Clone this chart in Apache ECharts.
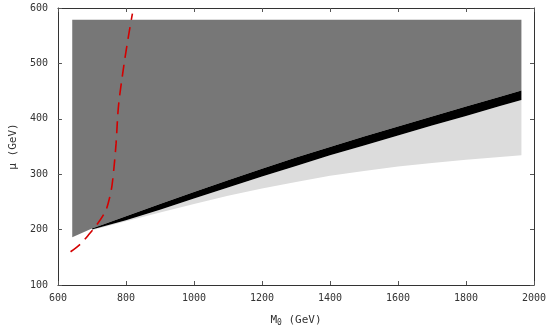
<!DOCTYPE html>
<html><head><meta charset="utf-8">
<script src="https://cdn.jsdelivr.net/npm/echarts@6/dist/echarts.min.js"></script>
<style>html,body{margin:0;padding:0;background:#fff}#c{width:554px;height:332px}</style>
</head><body><div id="c"></div>
<script>
// Band sample positions (M0, GeV)
var bandX       = [700, 800, 900, 1000, 1100, 1200, 1300, 1400, 1500, 1600, 1700, 1800, 1900, 1963];
var blackTop    = [202, 224, 246, 268,  289,  310,  330,  349,  368,  386,  404,  422,  440,  451];
var blackBottom = [200, 217, 236, 256,  276,  296,  315,  334,  352,  370,  388,  405,  423,  434];
var lightBottom = [199, 215, 231, 246,  261,  274,  286,  297,  306,  314,  320,  326,  331,  334];
// Dark region outer corners
var darkLeftX = 642, darkRightX = 1963, darkTopY = 579, darkLeftBottomY = 186;
// Red dashed curve
var redX = [637, 666, 692, 718, 741, 752, 759, 766, 771, 778, 793, 807, 819];
var redY = [160, 174, 192, 212, 235, 258, 280, 320, 356, 423, 493, 548, 590];
// Tick labels
var xTicks = [600, 800, 1000, 1200, 1400, 1600, 1800, 2000];
var yTicks = [100, 200, 300, 400, 500, 600];

var fills = ['#777777', '#dcdcdc', '#000000'];
function poly(upperX, upperY, lowerX, lowerY, extraTail) {
  return function (params, api) {
    var pts = [];
    for (var i = 0; i < upperX.length; i++) pts.push(api.coord([upperX[i], upperY[i]]));
    for (var j = lowerX.length - 1; j >= 0; j--) pts.push(api.coord([lowerX[j], lowerY[j]]));
    (extraTail || []).forEach(function (p) { pts.push(api.coord(p)); });
    return { type: 'polygon', shape: { points: pts }, style: { fill: fills[params.seriesIndex] } };
  };
}

var chart = echarts.init(document.getElementById('c'), null, { renderer: 'canvas' });
var mono = 'DejaVu Sans Mono';
var axisLineStyle = { color: '#333', width: 1 };
var tickStyle = { show: true, inside: true, length: 4, lineStyle: { color: '#555' } };
var fmtX = function (v) { return xTicks.indexOf(v) >= 0 ? String(v) : ''; };
var fmtY = function (v) { return yTicks.indexOf(v) >= 0 ? String(v) : ''; };

var darkUpperX = [darkLeftX, darkRightX];
var darkUpperY = [darkTopY, darkTopY];

chart.setOption({
  animation: false,
  grid: { left: 56, right: 20, top: 8, bottom: 44 },
  xAxis: [{
    type: 'value', min: 600, max: 2000, interval: 200, position: 'bottom',
    axisLine: { show: true, onZero: false, lineStyle: axisLineStyle }, axisTick: tickStyle,
    splitLine: { show: false },
    axisLabel: { fontFamily: mono, fontSize: 10, color: '#333', margin: 8, formatter: fmtX },
    name: '{m|M}{s|0}{m| (GeV)}', nameLocation: 'middle', nameGap: 28,
    nameTextStyle: { rich: { m: { fontFamily: mono, fontSize: 11, color: '#333' }, s: { fontFamily: mono, fontSize: 8, color: '#333', verticalAlign: 'bottom', padding: [6, 0, 0, 0] } } }
  }, {
    type: 'value', min: 600, max: 2000, interval: 200, position: 'top',
    axisLine: { show: true, onZero: false, lineStyle: axisLineStyle }, axisTick: tickStyle,
    splitLine: { show: false }, axisLabel: { show: false }
  }],
  yAxis: [{
    type: 'value', min: 100, max: 600, interval: 100, position: 'left',
    axisLine: { show: true, onZero: false, lineStyle: axisLineStyle }, axisTick: tickStyle,
    splitLine: { show: false },
    axisLabel: { fontFamily: mono, fontSize: 10, color: '#333', margin: 10, formatter: fmtY },
    name: 'μ (GeV)', nameLocation: 'middle', nameGap: 38, nameRotate: 90,
    nameTextStyle: { fontFamily: mono, fontSize: 11, color: '#333' }
  }, {
    type: 'value', min: 100, max: 600, interval: 100, position: 'right',
    axisLine: { show: true, onZero: false, lineStyle: axisLineStyle }, axisTick: tickStyle,
    splitLine: { show: false }, axisLabel: { show: false }
  }],
  series: [
    { type: 'custom', coordinateSystem: 'cartesian2d', xAxisIndex: 0, yAxisIndex: 0, data: [[600, 100]], silent: true,
      renderItem: poly(darkUpperX, darkUpperY, bandX, blackTop, [[darkLeftX, darkLeftBottomY]]) },
    { type: 'custom', coordinateSystem: 'cartesian2d', xAxisIndex: 0, yAxisIndex: 0, data: [[600, 100]], silent: true,
      renderItem: poly(bandX, blackBottom, bandX, lightBottom) },
    { type: 'custom', coordinateSystem: 'cartesian2d', xAxisIndex: 0, yAxisIndex: 0, data: [[600, 100]], silent: true,
      renderItem: poly(bandX, blackTop, bandX, blackBottom) },
    { type: 'line', xAxisIndex: 0, yAxisIndex: 0, showSymbol: false, smooth: 0.3, silent: true,
      data: redX.map(function (x, i) { return [x, redY[i]]; }),
      lineStyle: { color: '#d40000', width: 1.6, type: [12, 7] } }
  ]
});
</script></body></html>
